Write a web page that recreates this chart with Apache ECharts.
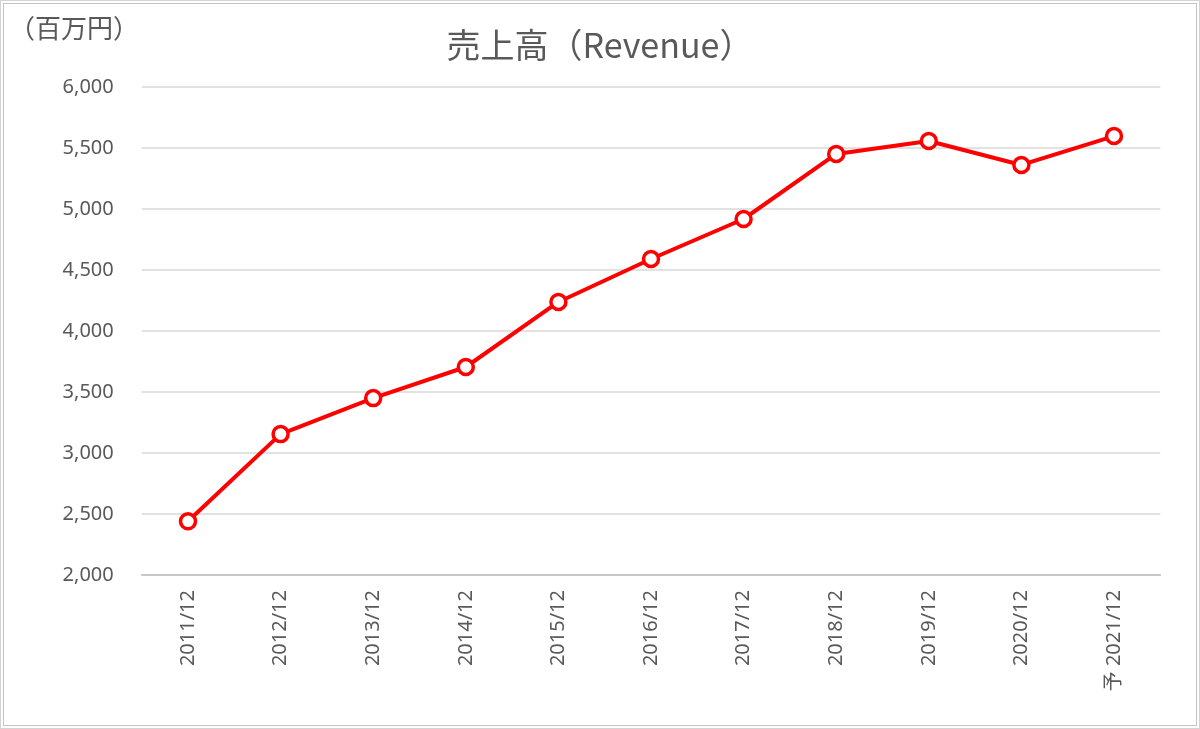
<!DOCTYPE html>
<html lang="ja">
  <head>
    <meta charset="utf-8">
    <script src="https://cdn.jsdelivr.net/npm/echarts@6/dist/echarts.min.js"></script>
    <style>
      body { margin: 0; background: #fff; }
      #demo_chart { position: absolute; left: 0; top: 0; width: 1200px; height: 729px; }
      .frame { position: absolute; pointer-events: none; box-sizing: border-box; }
    </style>
  </head>
  <body>
    <div id="demo_chart"></div>
    <div class="frame" style="left:0;top:0;width:1200px;height:729px;border:1px solid #d4d4d4;"></div>
    <div class="frame" style="left:3px;top:3px;width:1194px;height:723px;border:1px solid #c4c4c4;"></div>
    <script>
      // Anni fiscali (asse x)
      const categorie = ['2011/12', '2012/12', '2013/12', '2014/12', '2015/12', '2016/12',
                         '2017/12', '2018/12', '2019/12', '2020/12', '予 2021/12'];
      // Ricavi in milioni di yen
      const ricavi = [2440, 3155, 3450, 3705, 4238, 4590, 4918, 5451, 5557, 5361, 5598];
      // Scala asse y
      const yMin = 2000, yMax = 6000, yStep = 500;

      const testo = '#595959';
      const font = '"Segoe UI", "Noto Sans", "Noto Sans CJK JP", sans-serif';

      var myChart = echarts.init(document.getElementById('demo_chart'));

      var option = {
        animation: false,
        backgroundColor: '#fff',
        title: {
          text: '売上高（Revenue）',
          left: 'center',
          top: 23,
          textStyle: { color: testo, fontSize: 34, fontWeight: 'normal', fontFamily: '"Noto Sans CJK JP", sans-serif' }
        },
        graphic: [{
          type: 'text',
          left: 9,
          top: 15,
          style: { text: '（百万円）', fill: testo, fontSize: 26, fontFamily: '"Noto Sans CJK JP", sans-serif' }
        }],
        grid: { left: 141.7, right: 39.7, top: 87, bottom: 154 },
        xAxis: {
          type: 'category',
          data: categorie,
          boundaryGap: true,
          axisLine: { lineStyle: { color: '#bfbfbf', width: 1.5 } },
          axisTick: { show: false },
          axisLabel: {
            rotate: 90,
            color: testo,
            fontSize: 20,
            margin: 15,
            fontFamily: font,
            interval: 0
          }
        },
        yAxis: {
          type: 'value',
          min: yMin,
          max: yMax,
          interval: yStep,
          axisLine: { show: false },
          axisTick: { show: false },
          splitLine: { lineStyle: { color: '#d9d9d9', width: 1.5 } },
          axisLabel: {
            color: testo,
            fontSize: 20,
            margin: 28,
            fontFamily: font,
            formatter: function (v) { return v.toLocaleString('en-US'); }
          }
        },
        series: [{
          type: 'line',
          data: ricavi,
          symbol: 'circle',
          symbolSize: 15,
          lineStyle: { color: '#ff0000', width: 4 },
          itemStyle: { color: '#ffffff', borderColor: '#ff0000', borderWidth: 3.5 }
        }]
      };
      myChart.setOption(option);
    </script>
  </body>
</html>
